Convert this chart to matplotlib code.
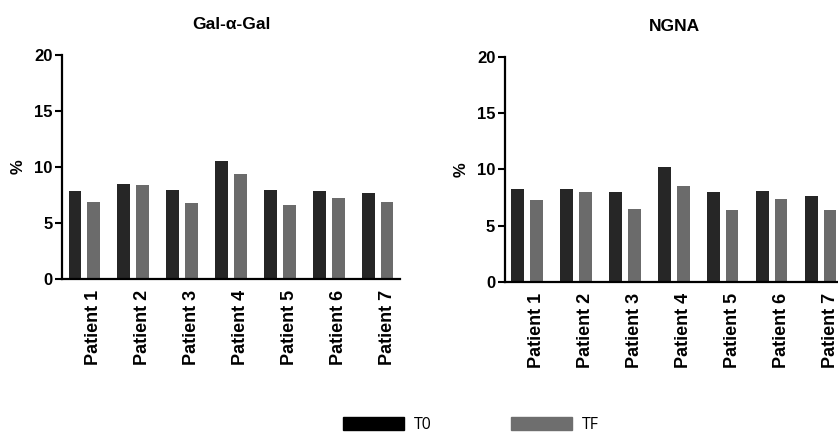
import numpy as np
import matplotlib
matplotlib.use("Agg")
import matplotlib.pyplot as plt
from matplotlib.patches import Patch

patients = ["Patient 1", "Patient 2", "Patient 3", "Patient 4",
            "Patient 5", "Patient 6", "Patient 7"]

# percentage of positive cells at T0 and TF
galgal_t0 = [7.9, 8.5, 7.95, 10.55, 7.95, 7.9, 7.65]
galgal_tf = [6.9, 8.4, 6.75, 9.35, 6.6, 7.25, 6.9]
ngna_t0 = [8.25, 8.3, 8.0, 10.2, 7.95, 8.1, 7.6]
ngna_tf = [7.3, 7.95, 6.5, 8.55, 6.35, 7.35, 6.4]

plt.rcParams['font.family'] = ['Liberation Sans', 'DejaVu Sans']
plt.rcParams['font.weight'] = 'bold'

fig = plt.figure(figsize=(8.38, 4.34), dpi=100)
ax1 = fig.add_axes([0.074, 0.357, 0.4033, 0.516])
ax2 = fig.add_axes([0.6026, 0.351, 0.4033, 0.517])

x = np.arange(len(patients))
w = 0.255
off = 0.19


def draw(ax, t0, tf, title):
    ax.bar(x - off, t0, w, color='#262626')
    ax.bar(x + off, tf, w, color='#6b6b6b')
    ax.set_xlim(-0.45, 6.45)
    ax.set_ylim(0, 20)
    ax.set_yticks([0, 5, 10, 15, 20])
    ax.set_xticks(x + off)
    ax.set_xticklabels(patients, rotation=90, fontsize=13, fontweight='bold')
    ax.tick_params(axis='x', length=0, pad=8)
    ax.tick_params(axis='y', length=5, width=1.5, labelsize=12, pad=2)
    for lab in ax.get_yticklabels():
        lab.set_fontweight('bold')
    ax.spines['top'].set_visible(False)
    ax.spines['right'].set_visible(False)
    ax.spines['left'].set_linewidth(1.6)
    ax.spines['bottom'].set_linewidth(1.6)
    ax.set_ylabel('%', fontsize=12, fontweight='bold', labelpad=6)
    ax.set_title(title, fontsize=12.5, fontweight='bold', pad=19)


draw(ax1, galgal_t0, galgal_tf, 'Gal-\u03b1-Gal')
draw(ax2, ngna_t0, ngna_tf, 'NGNA')

handles = [Patch(color='black', label='T0'), Patch(color='#6e6e6e', label='TF')]
fig.legend(handles=handles, loc='center', bbox_to_anchor=(0.562, 0.02),
           ncol=2, frameon=False, handlelength=3.8, handleheight=0.85,
           handletextpad=0.6, columnspacing=5.0, borderpad=0.2,
           prop={'family': 'Open Sans', 'size': 11.5, 'weight': 'normal'})

fig.savefig('out.png', dpi=100)
